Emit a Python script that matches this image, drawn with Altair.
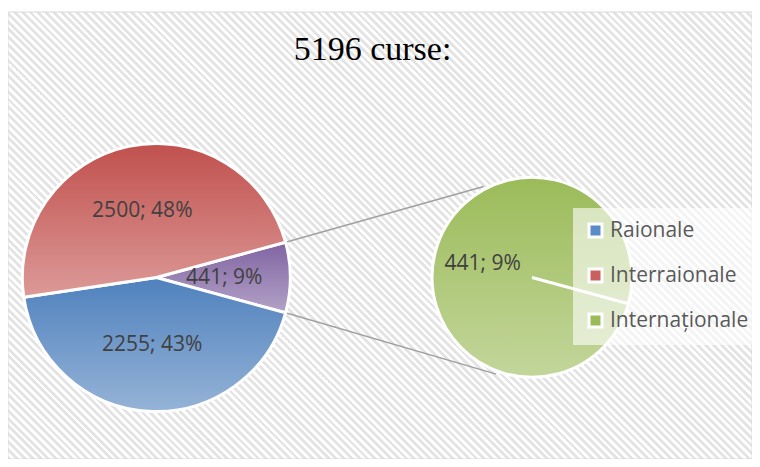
import math
import altair as alt
import pandas as pd

# ---- data ----
CATEGORIES = ["Raionale", "Interraionale", "Internaționale"]
VALUES = [2255, 2500, 441]
PERCENTS = [43, 48, 9]
OTHER_NAME = "Internaționale"

# slice colours (top -> bottom of each slice gradient)
TOP_COLORS = {"Raionale": "#4f81bd", "Interraionale": "#c0504d", "other": "#8064a2", "Internaționale": "#9bbb59"}
BOTTOM_COLORS = {"Raionale": "#95b3d7", "Interraionale": "#dc9a98", "other": "#b3a2c7", "Internaționale": "#c3d69b"}
LEGEND_COLORS = ["#5b8bc9", "#c9605e", "#9bbb59"]

TOTAL = sum(VALUES)
TITLE = f"{TOTAL} curse:"

# ---- layout constants ----
W, H = 744, 447
C1 = (148.3, 265.5)   # main pie centre
R1 = 134
C2 = (524.0, 265.5)   # secondary pie centre
R2 = 100
END_ANGLES = [332.0, 200.3]   # where connectors meet the secondary pie (deg)

LABEL_FONT = "Open Sans"
LABEL_COLOR = "#404040"


def vgrad(top, bottom):
    return alt.LinearGradient(
        gradient="linear", x1=0, y1=0, x2=0, y2=1,
        stops=[alt.GradientStop(offset=0, color=top), alt.GradientStop(offset=1, color=bottom)],
    )


# diagonal stripe background as a many-stop linear gradient
ratio = H / W
d = (1.0, -ratio)
tmax = (1 + ratio) / (1 + ratio ** 2)
n_stripes = int(((W + H) / math.sqrt(2)) / 5.5)
stops = []
for i in range(n_stripes):
    o0, o1, o2 = i / n_stripes, (i + 0.5) / n_stripes, (i + 1) / n_stripes
    stops += [alt.GradientStop(offset=o0, color="#e4e4e4"), alt.GradientStop(offset=o1, color="#e4e4e4"),
              alt.GradientStop(offset=o1, color="#ffffff"), alt.GradientStop(offset=o2, color="#ffffff")]
stripe_grad = alt.LinearGradient(gradient="linear", x1=0, y1=1, x2=tmax * d[0], y2=1 + tmax * d[1], stops=stops)

# ---- main pie table ----
other_val = VALUES[CATEGORIES.index(OTHER_NAME)]
other_pct = PERCENTS[CATEGORIES.index(OTHER_NAME)]
main_rows = [("other", other_val, other_pct)]
for c, v, p in zip(CATEGORIES, VALUES, PERCENTS):
    if c != OTHER_NAME:
        main_rows.append((c, v, p))
start = 0
recs = []
for name, v, p in main_rows:
    recs.append({"name": name, "value": v, "start": start, "end": start + v,
                 "mid": start + v / 2, "label": f"{v}; {p}%"})
    start += v
df_main = pd.DataFrame(recs)

other_deg = other_val / TOTAL * 360
a0_deg = 90 - other_deg / 2
a1_deg = 90 + other_deg / 2
a0 = math.radians(a0_deg)
main_scale = alt.Scale(domain=[0, TOTAL], range=[a0, a0 + 2 * math.pi])

df_green = pd.DataFrame([{"name": OTHER_NAME, "start": 0, "end": other_val, "mid": other_val / 2,
                          "label": f"{other_val}; {other_pct}%"}])
g0 = math.radians(a1_deg)
green_scale = alt.Scale(domain=[0, other_val], range=[g0, g0 + 2 * math.pi - 0.002])

# connectors
conn = []
for sa, ea in zip([a0_deg, a1_deg], END_ANGLES):
    sr, er = math.radians(sa), math.radians(ea)
    conn.append({"x1": C1[0] + R1 * math.sin(sr), "y1": C1[1] - R1 * math.cos(sr),
                 "x2": C2[0] + (R2 + 3) * math.sin(er), "y2": C2[1] - (R2 + 3) * math.cos(er)})
df_conn = pd.DataFrame(conn)

one = pd.DataFrame({"k": [0]})

background = alt.Chart(one).mark_rect(fill=stripe_grad, stroke="#d9d9d9", strokeWidth=1).encode(
    x=alt.value(0), x2=alt.value(W), y=alt.value(0), y2=alt.value(H))

lines = alt.Chart(df_conn).mark_rule(color="#a0a0a0", strokeWidth=1.5).encode(
    x=alt.X("x1:Q", scale=None), y=alt.Y("y1:Q", scale=None), x2="x2:Q", y2="y2:Q")

slices = []
for name in df_main["name"]:
    slices.append(
        alt.Chart(df_main).transform_filter(alt.datum.name == name)
        .mark_arc(fill=vgrad(TOP_COLORS[name], BOTTOM_COLORS[name]), stroke="white", strokeWidth=3,
                  x=C1[0], y=C1[1], radius=R1)
        .encode(theta=alt.Theta("start:Q", scale=main_scale, stack=False), theta2="end:Q")
    )

main_labels = alt.Chart(df_main).mark_text(
    x=C1[0], y=C1[1], radius=68, font=LABEL_FONT, fontSize=21, color=LABEL_COLOR,
    align="center", baseline="middle").encode(
    theta=alt.Theta("mid:Q", scale=main_scale, stack=False), text="label:N")

green = alt.Chart(df_green).mark_arc(
    fill=vgrad(TOP_COLORS[OTHER_NAME], BOTTOM_COLORS[OTHER_NAME]), stroke="white", strokeWidth=3,
    x=C2[0], y=C2[1], radius=R2).encode(
    theta=alt.Theta("start:Q", scale=green_scale, stack=False), theta2="end:Q")

green_label = alt.Chart(df_green).mark_text(
    x=C2[0], y=C2[1], radius=51, font=LABEL_FONT, fontSize=21, color=LABEL_COLOR,
    align="center", baseline="middle").encode(
    theta=alt.Theta("mid:Q", scale=green_scale, stack=False), text="label:N")

title = alt.Chart(pd.DataFrame({"t": [TITLE]})).mark_text(
    x=364.5, y=48, font="Liberation Serif", fontSize=34, color="#000000",
    align="center", baseline="alphabetic").encode(text="t:N")

legend_layer = alt.Chart(pd.DataFrame({"name": CATEGORIES})).mark_square(opacity=0, x=0, y=0).encode(
    color=alt.Color("name:N", scale=alt.Scale(domain=CATEGORIES, range=LEGEND_COLORS),
                    legend=alt.Legend(orient="none", legendX=565, legendY=196, title=None,
                                      fillColor="rgba(255,255,255,0.6)", padding=12,
                                      symbolType="square", symbolSize=169, symbolStrokeColor="white",
                                      symbolStrokeWidth=3, symbolOpacity=1,
                                      labelFont=LABEL_FONT, labelFontSize=21, labelColor="#595959",
                                      labelOffset=4, rowPadding=20)))

chart = alt.layer(background, lines, *slices, main_labels, green, green_label, title, legend_layer).resolve_scale(
    theta="independent").properties(
    width=W, height=H, padding={"left": 0, "top": 4, "right": 0, "bottom": 0},
    autosize=alt.AutoSizeParams(type="none"),
).configure_view(stroke=None)

chart.save("out.html", embed_options={"renderer": "svg", "actions": False})
